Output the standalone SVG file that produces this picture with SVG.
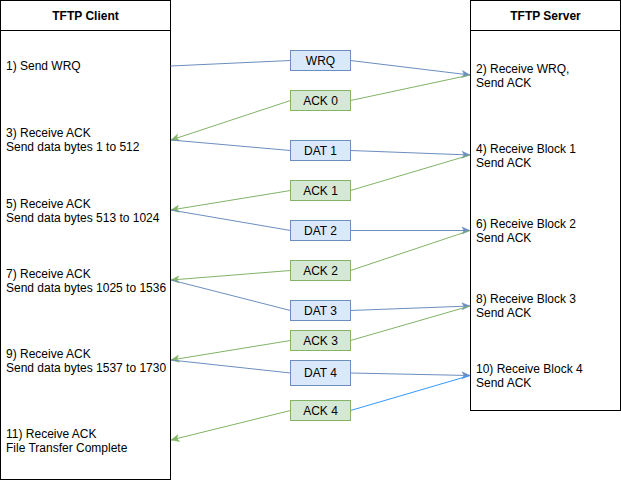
<svg xmlns="http://www.w3.org/2000/svg" width="621" height="481" viewBox="0 0 621 481">
<style>
text{font-family:"Liberation Sans",Arial,sans-serif;font-size:12px;fill:#000}
.title{font-weight:bold;text-anchor:middle}
.lbl{text-anchor:middle}
.lane{fill:#fff;stroke:#000;stroke-width:1}
.blue{fill:#dae8fc;stroke:#6c8ebf;stroke-width:1}
.green{fill:#d5e8d4;stroke:#82b366;stroke-width:1}
.eb{fill:none;stroke:#6c8ebf;stroke-width:1}
.eg{fill:none;stroke:#82b366;stroke-width:1}
.ebb{fill:none;stroke:#3399ff;stroke-width:1}
</style>
<defs>
<marker id="ab" markerUnits="userSpaceOnUse" markerWidth="9" markerHeight="8" refX="8" refY="3.5" orient="auto" overflow="visible">
<path d="M0,0 L8,3.5 L0,7 L2,3.5 Z" fill="#6c8ebf" stroke="#6c8ebf" stroke-width="0.5"/>
</marker>
<marker id="ag" markerUnits="userSpaceOnUse" markerWidth="9" markerHeight="8" refX="8" refY="3.5" orient="auto" overflow="visible">
<path d="M0,0 L8,3.5 L0,7 L2,3.5 Z" fill="#82b366" stroke="#82b366" stroke-width="0.5"/>
</marker>
</defs>
<rect width="621" height="481" fill="#fff"/>
<g id="client">
<rect class="lane" x="0.5" y="0.5" width="170" height="479"/>
<line x1="0.5" y1="30.5" x2="170.5" y2="30.5" stroke="#000"/>
<text class="title" x="85.5" y="19.5">TFTP Client</text>
<text x="6" y="70">1) Send WRQ</text>
<text x="6" y="137">3) Receive ACK</text>
<text x="6" y="151">Send data bytes 1 to 512</text>
<text x="6" y="208">5) Receive ACK</text>
<text x="6" y="222">Send data bytes 513 to 1024</text>
<text x="6" y="278">7) Receive ACK</text>
<text x="6" y="292">Send data bytes 1025 to 1536</text>
<text x="6" y="358">9) Receive ACK</text>
<text x="6" y="372">Send data bytes 1537 to 1730</text>
<text x="6" y="438">11) Receive ACK</text>
<text x="6" y="452">File Transfer Complete</text>
</g>
<g id="server">
<rect class="lane" x="470.5" y="0.5" width="150" height="410"/>
<line x1="470.5" y1="30.5" x2="620.5" y2="30.5" stroke="#000"/>
<text class="title" x="545.5" y="19.5">TFTP Server</text>
<text x="476" y="73">2) Receive WRQ,</text>
<text x="476" y="87">Send ACK</text>
<text x="476" y="153">4) Receive Block 1</text>
<text x="476" y="167">Send ACK</text>
<text x="476" y="228">6) Receive Block 2</text>
<text x="476" y="242">Send ACK</text>
<text x="476" y="303">8) Receive Block 3</text>
<text x="476" y="317">Send ACK</text>
<text x="476" y="373">10) Receive Block 4</text>
<text x="476" y="387">Send ACK</text>
</g>
<g id="connectors">
<polyline class="eb" points="170.5,66 290.5,60.5"/>
<polyline class="eb" points="350.5,60.5 470,75" marker-end="url(#ab)"/>
<polyline class="eg" points="470,75 350.5,100.5"/>
<polyline class="eg" points="290.5,100.5 171,140" marker-end="url(#ag)"/>
<polyline class="eb" points="171,140 290.5,150.5"/>
<polyline class="eb" points="350.5,150.5 470,155" marker-end="url(#ab)"/>
<polyline class="eg" points="470,155 350.5,190.5"/>
<polyline class="eg" points="290.5,190.5 171,210" marker-end="url(#ag)"/>
<polyline class="eb" points="171,210 290.5,230.5"/>
<polyline class="eb" points="350.5,230.5 470,230.5" marker-end="url(#ab)"/>
<polyline class="eg" points="470,230.5 350.5,270.5"/>
<polyline class="eg" points="290.5,270.5 171,280" marker-end="url(#ag)"/>
<polyline class="eb" points="171,280 290.5,310.5"/>
<polyline class="eb" points="350.5,310.5 470,306" marker-end="url(#ab)"/>
<polyline class="eg" points="470,306 350.5,340.5"/>
<polyline class="eg" points="290.5,340.5 171,360" marker-end="url(#ag)"/>
<polyline class="eb" points="171,360 290.5,373"/>
<polyline class="eb" points="350.5,373 470,375.5" marker-end="url(#ab)"/>
<polyline class="ebb" points="470,375.5 350.5,410.5"/>
<polyline class="eg" points="290.5,410.5 171,440" marker-end="url(#ag)"/>
</g>
<g id="wrq"><rect class="blue" x="290.5" y="50.5" width="60" height="20"/><text class="lbl" x="320.5" y="64.5">WRQ</text></g>
<g id="ack0"><rect class="green" x="290.5" y="90.5" width="60" height="20"/><text class="lbl" x="320.5" y="104.5">ACK 0</text></g>
<g id="dat1"><rect class="blue" x="290.5" y="140.5" width="60" height="20"/><text class="lbl" x="320.5" y="154.5">DAT 1</text></g>
<g id="ack1"><rect class="green" x="290.5" y="180.5" width="60" height="20"/><text class="lbl" x="320.5" y="194.5">ACK 1</text></g>
<g id="dat2"><rect class="blue" x="290.5" y="220.5" width="60" height="20"/><text class="lbl" x="320.5" y="234.5">DAT 2</text></g>
<g id="ack2"><rect class="green" x="290.5" y="260.5" width="60" height="20"/><text class="lbl" x="320.5" y="274.5">ACK 2</text></g>
<g id="dat3"><rect class="blue" x="290.5" y="300.5" width="60" height="20"/><text class="lbl" x="320.5" y="314.5">DAT 3</text></g>
<g id="ack3"><rect class="green" x="290.5" y="330.5" width="60" height="20"/><text class="lbl" x="320.5" y="344.5">ACK 3</text></g>
<g id="dat4"><rect class="blue" x="290.5" y="360.5" width="60" height="25"/><text class="lbl" x="320.5" y="377">DAT 4</text></g>
<g id="ack4"><rect class="green" x="290.5" y="400.5" width="60" height="20"/><text class="lbl" x="320.5" y="414.5">ACK 4</text></g>
</svg>
